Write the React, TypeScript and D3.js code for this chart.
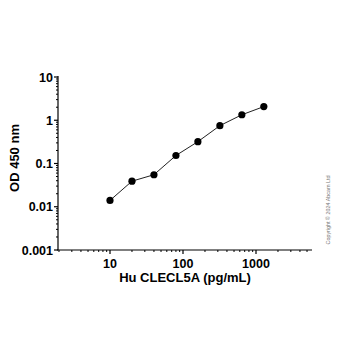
import React from "react";
import * as d3 from "d3";

const concentrations = [10, 20, 40, 80, 160, 320, 640, 1280];
const odValues = [0.014, 0.039, 0.055, 0.153, 0.32, 0.75, 1.34, 2.07];
const yTickValues = [0.001, 0.01, 0.1, 1, 10];
const yTickLabels = ["0.001", "0.01", "0.1", "1", "10"];
const xTickValues = [10, 100, 1000];
const xTickLabels = ["10", "100", "1000"];

const W = 350;
const H = 350;
const FONT = "'Liberation Sans', Arial, sans-serif";

export default function App() {
  const x = d3.scaleLog().domain([10, 1000]).range([110, 256]);
  const y = d3.scaleLog().domain([0.001, 10]).range([250, 77]);
  const xLeft = 57;
  const xRight = 312;
  const yBottom = 250;
  const yTop = 76;
  const xMin = x.invert(xLeft);
  const xMax = x.invert(xRight);

  const xMinor: number[] = [];
  for (let e = 0; e <= 4; e++) {
    for (let m = 1; m <= 9; m++) {
      const v = m * Math.pow(10, e);
      if (v >= xMin && v <= xMax && !xTickValues.includes(v)) xMinor.push(v);
    }
  }
  const yMinor: number[] = [];
  for (let e = -3; e <= 0; e++) {
    for (let m = 2; m <= 9; m++) {
      yMinor.push(m * Math.pow(10, e));
    }
  }

  const line = d3
    .line<number>()
    .x((_, i) => x(concentrations[i]))
    .y((d) => y(d));

  return (
    <svg width={W} height={H} style={{ position: "absolute", left: 0, top: 0, background: "#fff" }}>
      <rect width={W} height={H} fill="#fff" />
      {/* axes */}
      <line x1={xLeft} x2={xRight} y1={yBottom} y2={yBottom} stroke="#000" strokeWidth={1.2} />
      <line x1={58} x2={58} y1={yTop} y2={yBottom} stroke="#000" strokeWidth={1.2} />
      {xTickValues.map((v, i) => (
        <g key={"xt" + i}>
          <line x1={x(v)} x2={x(v)} y1={yBottom} y2={yBottom + 4} stroke="#000" strokeWidth={1.2} />
          <text
            x={x(v)}
            y={yBottom + 18}
            textAnchor="middle"
            fontFamily={FONT}
            fontWeight="bold"
            fontSize={12.5}
            fill="#000"
          >
            {xTickLabels[i]}
          </text>
        </g>
      ))}
      {xMinor.map((v, i) => (
        <line key={"xm" + i} x1={x(v)} x2={x(v)} y1={yBottom} y2={yBottom + 2} stroke="#000" strokeWidth={1} />
      ))}
      {yTickValues.map((v, i) => (
        <g key={"yt" + i}>
          <line x1={54} x2={58} y1={y(v)} y2={y(v)} stroke="#000" strokeWidth={1.2} />
          <text
            x={53}
            y={y(v) + 4.5}
            textAnchor="end"
            fontFamily={FONT}
            fontWeight="bold"
            fontSize={12.5}
            fill="#000"
          >
            {yTickLabels[i]}
          </text>
        </g>
      ))}
      {yMinor.map((v, i) => (
        <line key={"ym" + i} x1={56} x2={58} y1={y(v)} y2={y(v)} stroke="#000" strokeWidth={1} />
      ))}
      {/* data */}
      <path d={line(odValues) || ""} fill="none" stroke="#222" strokeWidth={1} />
      {odValues.map((v, i) => (
        <circle key={"p" + i} cx={x(concentrations[i])} cy={y(v)} r={3.6} fill="#000" />
      ))}
      {/* titles */}
      <text
        x={185}
        y={282}
        textAnchor="middle"
        fontFamily={FONT}
        fontWeight="bold"
        fontSize={13}
        fill="#000"
      >
        Hu CLECL5A (pg/mL)
      </text>
      <text
        transform={`translate(18.5,158) rotate(-90)`}
        textAnchor="middle"
        fontFamily={FONT}
        fontWeight="bold"
        fontSize={13}
        fill="#000"
      >
        OD 450 nm
      </text>
      <text
        transform={`translate(330,210) rotate(-90)`}
        textAnchor="middle"
        fontFamily={FONT}
        fontSize={5.4}
        fill="#777"
      >
        Copyright © 2024 Abcam Ltd
      </text>
    </svg>
  );
}
